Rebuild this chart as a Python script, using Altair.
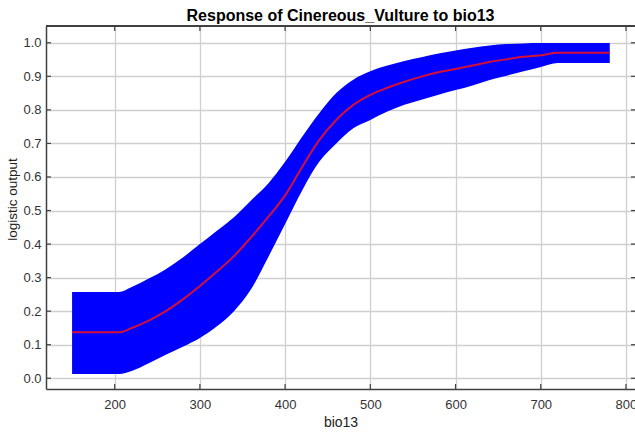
import altair as alt
import pandas as pd

# ---- data ----
bio13 = [150, 205, 220, 240, 260, 280, 300, 320, 340, 360, 380, 400, 420, 440,
         460, 480, 500, 520, 540, 560, 580, 600, 620, 640, 660, 680, 700, 720, 781]
mean_out = [0.137, 0.137, 0.150, 0.172, 0.200, 0.235, 0.275, 0.318, 0.364, 0.420,
            0.480, 0.545, 0.630, 0.710, 0.770, 0.815, 0.845, 0.866, 0.884, 0.899,
            0.912, 0.922, 0.932, 0.943, 0.951, 0.958, 0.963, 0.970, 0.970]
upper_out = [0.257, 0.257, 0.272, 0.297, 0.325, 0.360, 0.400, 0.440, 0.480, 0.530,
             0.580, 0.645, 0.720, 0.790, 0.850, 0.890, 0.915, 0.932, 0.946, 0.957,
             0.968, 0.977, 0.985, 0.992, 0.996, 0.998, 0.999, 0.999, 0.999]
lower_out = [0.013, 0.013, 0.022, 0.045, 0.070, 0.094, 0.120, 0.155, 0.200, 0.265,
             0.360, 0.460, 0.560, 0.645, 0.700, 0.745, 0.770, 0.795, 0.815, 0.830,
             0.845, 0.859, 0.873, 0.889, 0.902, 0.915, 0.928, 0.940, 0.940]

x_ticks = [200, 300, 400, 500, 600, 700, 800]
y_ticks = [0.0, 0.1, 0.2, 0.3, 0.4, 0.5, 0.6, 0.7, 0.8, 0.9, 1.0]

df = pd.DataFrame({"bio13": bio13, "mean": mean_out, "upper": upper_out, "lower": lower_out})
xt = pd.DataFrame({"bio13": x_ticks})
yt = pd.DataFrame({"mean": y_ticks})

W, H = 589, 363
FONT = "Liberation Sans"
x_scale = alt.Scale(domain=[119.4, 810.6], nice=False, zero=False)
y_scale = alt.Scale(domain=[-0.032, 1.05], nice=False, zero=False)

x_axis = alt.Axis(values=x_ticks, title="bio13", ticks=False, labelPadding=9,
                  titlePadding=4, grid=True, format="d", titleFontSize=14)
y_axis = alt.Axis(values=y_ticks, title="logistic output", ticks=False, labelPadding=5,
                  titlePadding=3, grid=True, format=".1f", titleY=173)

X = alt.X("bio13:Q", scale=x_scale, axis=x_axis)
Y = alt.Y("mean:Q", scale=y_scale, axis=y_axis)

band = alt.Chart(df).mark_area(color="#0000ff", opacity=1, interpolate="monotone").encode(
    x=X,
    y=alt.Y("lower:Q", scale=y_scale, axis=y_axis),
    y2="upper:Q",
)
line = alt.Chart(df).mark_line(color="#d41038", strokeWidth=2, interpolate="monotone").encode(
    x=X, y=Y,
)

tick_color = "#404040"
left_ticks = alt.Chart(yt).mark_rule(color=tick_color, strokeWidth=1.2).encode(
    y=Y, x=alt.value(0), x2=alt.value(5))
right_ticks = alt.Chart(yt).mark_rule(color=tick_color, strokeWidth=1.2).encode(
    y=Y, x=alt.value(W - 4), x2=alt.value(W))
top_ticks = alt.Chart(xt).mark_rule(color=tick_color, strokeWidth=1.2).encode(
    x=X, y=alt.value(0), y2=alt.value(5))
bottom_ticks = alt.Chart(xt).mark_rule(color=tick_color, strokeWidth=1.2).encode(
    x=X, y=alt.value(H - 5), y2=alt.value(H))
top_frame = alt.Chart(xt).mark_rule(color=tick_color, strokeWidth=1.5).encode(
    y=alt.value(0), x=alt.value(0), x2=alt.value(W))

chart = alt.layer(band, line, left_ticks, right_ticks, top_ticks, bottom_ticks, top_frame).properties(
    width=W, height=H,
    title=alt.TitleParams("Response of Cinereous_Vulture to bio13", font=FONT, fontSize=16,
                          fontWeight="bold", color="#000000", anchor="middle", offset=1),
    autosize=alt.AutoSizeParams(type="none"),
    padding={"left": 46, "top": 26, "right": 0, "bottom": 44},
).configure_view(stroke=None).configure_axis(
    labelFont=FONT, labelFontSize=13, labelColor="#333333",
    titleFont=FONT, titleFontSize=13.5, titleColor="#222222", titleFontWeight="normal",
    gridColor="#cfcfcf", gridWidth=1.3,
    domainColor=tick_color, domainWidth=1.5,
)

chart.save("out.html", embed_options={"renderer": "svg", "actions": False})
